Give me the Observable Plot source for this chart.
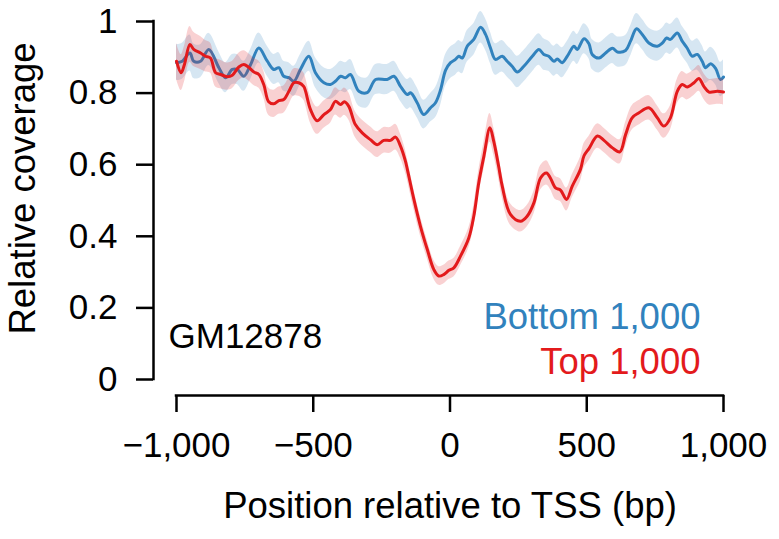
<!DOCTYPE html>
<html>
<head>
<meta charset="utf-8">
<script src="https://cdn.jsdelivr.net/npm/d3@7"></script>
<script src="https://cdn.jsdelivr.net/npm/@observablehq/plot@0.6"></script>
<style>
  html, body { margin: 0; padding: 0; background: white; }
</style>
</head>
<body>
<div id="chart"></div>
<script>
// ---- data ----
const xTicks = [-1000, -500, 0, 500, 1000];
const yTicks = [0, 0.2, 0.4, 0.6, 0.8, 1];

const bottomPos = [-1000,-979,-951,-937,-912,-882,-845,-821,-796,-778,-754,-729,-699,-668,-644,-626,-608,-589,-571,-547,-516,-492,-461,-437,-419,-400,-382,-364,-333,-303,-272,-230,-205,-181,-156,-144,-120,-96,-71,-53,-35,-16,2,20,32,45,63,87,112,130,148,166,191,209,227,246,270,301,325,343,361,380,392,410,429,453,465,490,508,520,545,569,594,612,642,660,682,703,727,758,777,792,806,831,849,867,886,904,922,934,953,971,989,1000];
const bottomCov = [0.885,0.889,0.912,0.889,0.889,0.922,0.871,0.843,0.866,0.866,
  0.847,0.880,0.926,0.889,0.866,0.871,0.847,0.843,0.833,0.866,
  0.903,0.857,0.829,0.824,0.833,0.847,0.843,0.852,0.805,0.801,
  0.838,0.838,0.847,0.819,0.796,0.801,0.773,0.740,0.759,0.773,
  0.808,0.864,0.885,0.894,0.903,0.898,0.931,0.950,0.984,0.964,
  0.926,0.894,0.903,0.889,0.875,0.859,0.875,0.903,0.922,0.908,
  0.903,0.889,0.895,0.885,0.903,0.931,0.922,0.952,0.938,0.908,
  0.898,0.912,0.925,0.915,0.919,0.945,0.980,0.964,0.940,0.931,
  0.940,0.954,0.950,0.968,0.945,0.926,0.903,0.908,0.889,0.871,
  0.882,0.869,0.838,0.845];
const bottomErr = [0.050,0.050,0.050,0.048,0.046,0.045,0.044,0.042,0.042,0.042,
  0.042,0.042,0.042,0.042,0.042,0.042,0.042,0.042,0.042,0.042,
  0.042,0.042,0.042,0.042,0.042,0.042,0.042,0.042,0.042,0.042,
  0.042,0.042,0.042,0.042,0.042,0.042,0.042,0.040,0.040,0.042,
  0.044,0.044,0.044,0.044,0.044,0.044,0.044,0.044,0.044,0.044,
  0.044,0.044,0.044,0.044,0.044,0.044,0.044,0.044,0.044,0.044,
  0.042,0.042,0.042,0.042,0.042,0.042,0.042,0.042,0.042,0.042,
  0.042,0.042,0.042,0.042,0.042,0.042,0.042,0.042,0.042,0.042,
  0.042,0.042,0.042,0.042,0.042,0.042,0.042,0.044,0.044,0.044,
  0.046,0.046,0.048,0.048];

const topPos = [-1000,-983,-971,-951,-937,-912,-894,-876,-857,-839,
  -815,-796,-772,-754,-736,-717,-699,-681,-663,-644,
  -626,-608,-589,-571,-553,-535,-528,-510,-486,-461,
  -437,-419,-400,-386,-370,-346,-321,-291,-266,-242,
  -218,-199,-181,-163,-156,-132,-108,-83,-59,-41,
  -23,-4,14,38,69,87,105,124,146,160,
  178,191,221,258,282,307,331,353,367,386,
  404,426,447,477,490,508,539,563,594,621,
  642,666,691,727,758,782,806,831,849,867,
  892,910,928,947,977,1000];
const topCov = [0.889,0.857,0.880,0.936,0.922,0.912,0.903,0.898,0.857,0.852,
  0.846,0.850,0.873,0.880,0.872,0.859,0.852,0.824,0.776,0.770,
  0.779,0.782,0.805,0.829,0.829,0.819,0.805,0.754,0.723,0.740,
  0.754,0.777,0.768,0.776,0.763,0.712,0.689,0.670,0.656,0.668,
  0.668,0.677,0.652,0.610,0.587,0.503,0.428,0.363,0.307,0.289,
  0.293,0.305,0.312,0.344,0.396,0.456,0.549,0.624,0.703,0.665,
  0.595,0.540,0.461,0.442,0.456,0.494,0.563,0.577,0.563,0.535,
  0.529,0.503,0.540,0.587,0.625,0.645,0.680,0.668,0.647,0.636,
  0.684,0.731,0.745,0.759,0.731,0.708,0.731,0.805,0.824,0.817,
  0.829,0.841,0.819,0.803,0.805,0.803];
const topErr = [0.050,0.050,0.050,0.050,0.048,0.046,0.044,0.042,0.040,0.040,
  0.038,0.038,0.038,0.038,0.038,0.038,0.038,0.038,0.038,0.038,
  0.038,0.038,0.038,0.038,0.038,0.038,0.038,0.038,0.038,0.038,
  0.038,0.038,0.038,0.038,0.038,0.036,0.036,0.036,0.036,0.036,
  0.036,0.036,0.034,0.032,0.030,0.028,0.027,0.026,0.026,0.026,
  0.026,0.026,0.026,0.027,0.028,0.030,0.034,0.038,0.040,0.038,
  0.034,0.032,0.030,0.030,0.030,0.032,0.034,0.034,0.032,0.032,
  0.032,0.032,0.032,0.034,0.034,0.034,0.034,0.034,0.034,0.034,
  0.034,0.034,0.034,0.034,0.034,0.034,0.034,0.034,0.036,0.036,
  0.036,0.036,0.036,0.036,0.036,0.036];

const seriesNames = ["Bottom 1,000", "Top 1,000"];
const cellLine = "GM12878";
const xLabel = "Position relative to TSS (bp)";
const yLabel = "Relative coverage";

// ---- build tables ----
const bottomRows = bottomPos.map((x, i) => ({x, y: bottomCov[i], lo: bottomCov[i] - bottomErr[i], hi: bottomCov[i] + bottomErr[i]}));
const topRows = topPos.map((x, i) => ({x, y: topCov[i], lo: topCov[i] - topErr[i], hi: topCov[i] + topErr[i]}));

const BLUE = "#3182bd";
const RED = "#e31a1c";
const FONT = 35;
const LFONT = 36.5;
const curve = "catmull-rom";

const chart = Plot.plot({
  width: 779,
  height: 539,
  marginLeft: 176,
  marginRight: 56,
  marginTop: 21,
  marginBottom: 160,
  style: {fontFamily: "'Liberation Sans', Arial, Helvetica, sans-serif", fontSize: FONT + "px", background: "white", color: "black"},
  x: {domain: [-1000, 1000]},
  y: {domain: [0, 1]},
  marks: [
    Plot.areaY(bottomRows, {x: "x", y1: "lo", y2: "hi", fill: BLUE, fillOpacity: 0.2, curve}),
    Plot.lineY(bottomRows, {x: "x", y: "y", stroke: BLUE, strokeWidth: 3, curve}),
    Plot.areaY(topRows, {x: "x", y1: "lo", y2: "hi", fill: RED, fillOpacity: 0.2, curve}),
    Plot.lineY(topRows, {x: "x", y: "y", stroke: RED, strokeWidth: 3, curve}),

    // detached y axis
    Plot.ruleX([xTicks[0]], {y1: yTicks[0], y2: yTicks[yTicks.length - 1], dx: -23, stroke: "black", strokeWidth: 2.5, strokeLinecap: "square"}),
    Plot.axisY({ticks: yTicks, tickFormat: d => String(d), tickSize: 17, tickPadding: 19, dx: -23,
      strokeWidth: 2.5, fontSize: FONT, label: null}),

    // detached x axis
    Plot.ruleY([yTicks[0]], {x1: xTicks[0], x2: xTicks[xTicks.length - 1], dy: 16, stroke: "black", strokeWidth: 2.5, strokeLinecap: "square"}),
    Plot.axisX({ticks: xTicks, tickFormat: d3.format(","), tickSize: 17, tickPadding: 20, dy: 16,
      strokeWidth: 2.5, fontSize: FONT, label: null}),

    // axis titles
    Plot.text([xLabel], {frameAnchor: "bottom", textAnchor: "middle", lineAnchor: "bottom", dy: 138, fontSize: LFONT, fill: "black"}),
    Plot.text([yLabel], {frameAnchor: "left", textAnchor: "middle", rotate: -90, lineAnchor: "bottom", dx: -142, dy: -12, fontSize: LFONT, fill: "black"}),

    // annotations
    Plot.text([cellLine], {frameAnchor: "bottom-left", textAnchor: "start", lineAnchor: "bottom", dx: -8, dy: -32, fontSize: FONT, fill: "black"}),
    Plot.text([seriesNames[0]], {frameAnchor: "bottom-right", textAnchor: "end", lineAnchor: "bottom", dx: -23, dy: -51, fontSize: LFONT, fill: BLUE}),
    Plot.text([seriesNames[1]], {frameAnchor: "bottom-right", textAnchor: "end", lineAnchor: "bottom", dx: -23, dy: -6, fontSize: LFONT, fill: RED})
  ]
});
document.getElementById("chart").appendChild(chart);
</script>
</body>
</html>
